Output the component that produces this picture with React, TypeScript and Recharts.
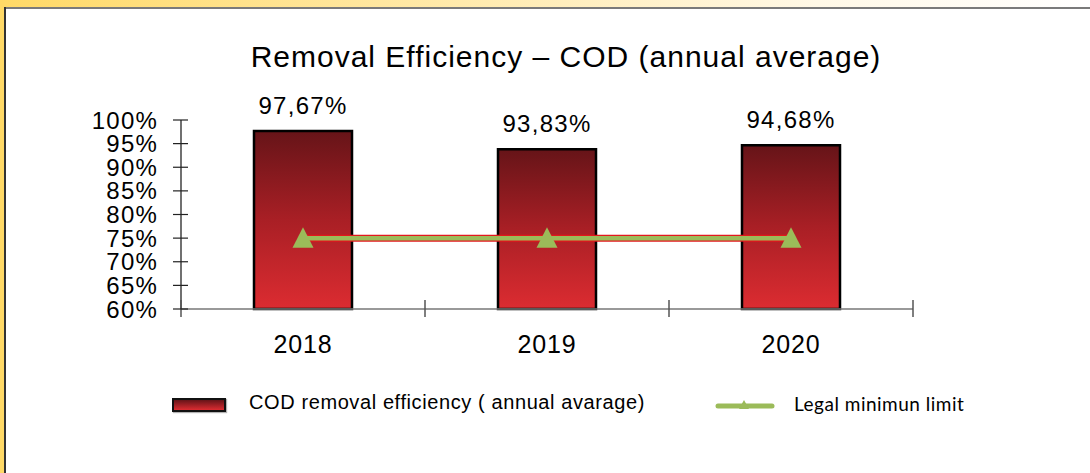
import React from 'react';
import { ComposedChart, Bar, Line, XAxis, YAxis, LabelList } from 'recharts';

const years = ['2018', '2019', '2020'];
const efficiency = [97.67, 93.83, 94.68];
const legalMin = [75, 75, 75];
const yTicks = [60, 65, 70, 75, 80, 85, 90, 95, 100];
const efficiencyLabels = ['97,67%', '93,83%', '94,68%'];

const data = years.map((y, i) => ({
  year: y,
  eff: efficiency[i],
  lim: legalMin[i],
  label: efficiencyLabels[i],
}));

const ARIAL = '"Liberation Sans", Arial, sans-serif';

const YTick = (props: any) => {
  const { x, y, payload } = props;
  return (
    <g>
      <line x1={x - 8} x2={x + 7} y1={y} y2={y} stroke="#222" strokeWidth={1.2} />
      <text x={x - 23} y={y + 8.5} textAnchor="end" fontSize={24} fontFamily={ARIAL} fill="#000" letterSpacing={1.2}>
        {payload.value}%
      </text>
    </g>
  );
};

const XTick = (props: any) => {
  const { x, y, payload, index } = props;
  const half = payload.offset || 0;
  return (
    <g>
      <line x1={x - half} x2={x - half} y1={y - 9} y2={y + 8} stroke="#555" strokeWidth={1.5} />
      {index === years.length - 1 && (
        <line x1={x + half} x2={x + half} y1={y - 9} y2={y + 8} stroke="#555" strokeWidth={1.5} />
      )}
      <text x={x} y={y + 44} textAnchor="middle" fontSize={25} fontFamily={ARIAL} fill="#000" letterSpacing={0.8}>
        {payload.value}
      </text>
    </g>
  );
};

const Triangle = (props: any) => {
  const { cx, cy } = props;
  if (cx == null || cy == null) return null;
  return <polygon points={`${cx},${cy - 11} ${cx - 10.5},${cy + 9.5} ${cx + 10.5},${cy + 9.5}`} fill="#9BBB59" />;
};

const BarLabel = (props: any) => {
  const { x, y, width, value } = props;
  return (
    <text x={x + width / 2} y={y - 17} textAnchor="middle" fontSize={24} fontFamily={ARIAL} fill="#000" letterSpacing={1.3}>
      {value}
    </text>
  );
};

export default function App() {
  return (
    <div style={{ position: 'absolute', left: 0, top: 0, width: 1090, height: 473, background: '#fff', overflow: 'hidden' }}>
      {/* slide frame */}
      <div style={{ position: 'absolute', left: 0, top: 0, width: 1090, height: 7, background: 'linear-gradient(to right, #FFD966 0%, #FFE9A8 40%, #FFF8E6 75%, #FFFFFF 100%)' }} />
      <div style={{ position: 'absolute', left: 0, top: 0, width: 4, height: 473, background: '#FFD966' }} />
      <div style={{ position: 'absolute', left: 4, top: 7, width: 1086, height: 2, background: '#7a7a7a' }} />
      <div style={{ position: 'absolute', left: 4, top: 7, width: 1.5, height: 466, background: '#333' }} />

      <div style={{ position: 'absolute', left: 0, top: 0 }}>
        <ComposedChart width={1090} height={473} data={data} margin={{ top: 120, right: 177, bottom: 134, left: 81 }}>
          <defs>
            <linearGradient id="barGrad" x1="0" y1="0" x2="0" y2="1">
              <stop offset="0%" stopColor="#661418" />
              <stop offset="50%" stopColor="#A91F25" />
              <stop offset="100%" stopColor="#DC2C31" />
            </linearGradient>
          </defs>
          <XAxis
            dataKey="year"
            height={30}
            tickSize={0}
            tickMargin={0}
            tickLine={false}
            axisLine={{ stroke: '#777', strokeWidth: 1.5 }}
            tick={<XTick />}
            interval={0}
          />
          <YAxis
            width={100}
            domain={[60, 100]}
            ticks={yTicks}
            tickSize={0}
            tickMargin={0}
            tickLine={false}
            axisLine={{ stroke: '#111', strokeWidth: 1.2 }}
            tick={<YTick />}
            interval={0}
          />
          <Bar dataKey="eff" barSize={98} fill="url(#barGrad)" stroke="#000" strokeWidth={2.5} isAnimationActive={false}>
            <LabelList dataKey="label" content={<BarLabel />} />
          </Bar>
          <Line dataKey="lim" stroke="#E2171C" strokeWidth={7} dot={false} activeDot={false} isAnimationActive={false} />
          <Line dataKey="lim" stroke="#9BBB59" strokeWidth={4.5} dot={<Triangle />} activeDot={false} isAnimationActive={false} />
        </ComposedChart>
      </div>

      {/* title */}
      <div style={{ position: 'absolute', left: 0, width: 1132, top: 39, textAlign: 'center', fontFamily: ARIAL, fontSize: 30, letterSpacing: 1, color: '#000', lineHeight: '36px', whiteSpace: 'nowrap' }}>
        Removal Efficiency – COD (annual average)
      </div>

      {/* legend */}
      <div style={{ position: 'absolute', left: 172, top: 398, width: 50, height: 10, border: '2px solid #111', background: 'linear-gradient(to bottom, #661418, #DC2C31)', boxShadow: '1px 1px 1px rgba(0,0,0,0.3)' }} />
      <div style={{ position: 'absolute', left: 249, top: 390, fontFamily: ARIAL, fontSize: 20, letterSpacing: 0.6, lineHeight: '24px', color: '#000', whiteSpace: 'nowrap' }}>
        COD removal efficiency ( annual avarage)
      </div>
      <svg style={{ position: 'absolute', left: 710, top: 396 }} width={70} height={20}>
        <line x1={8} x2={62} y1={10} y2={10} stroke="#9BBB59" strokeWidth={5} strokeLinecap="round" />
        <polygon points="34,4 29,13 39,13" fill="#9BBB59" />
      </svg>
      <div style={{ position: 'absolute', left: 794, top: 392, fontFamily: 'Lato, "Noto Sans", sans-serif', fontSize: 19, letterSpacing: 0.5, lineHeight: '24px', color: '#000', whiteSpace: 'nowrap' }}>
        Legal minimun limit
      </div>
    </div>
  );
}
